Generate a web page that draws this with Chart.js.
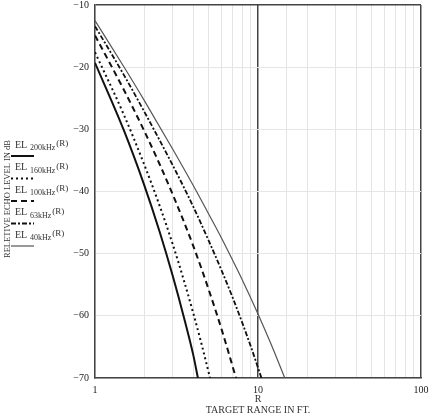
<!DOCTYPE html>
<html lang="en">
  <head>
    <meta charset="UTF-8" />
    <title>Relative echo level vs target range</title>
    <script src="https://cdn.jsdelivr.net/npm/chart.js"></script>
    <style>
      html, body { margin: 0; padding: 0; background: #ffffff; }
      #wrap { position: relative; width: 432px; height: 417px; }
    </style>
  </head>
  <body>
    <div id="wrap"><canvas id="echoChart"></canvas></div>

    <script>
      // data (range in ft, echo level in dB)
      const r200 = [1, 1.5, 2, 2.5, 3, 3.5, 4, 4.28];
      const el200 = [-19.3, -30.1, -38.9, -46.6, -53.6, -60.1, -66.2, -70];
      const r160 = [1, 1.5, 2, 2.5, 3, 3.5, 4, 4.5, 5.08];
      const el160 = [-17.6, -27.6, -35.6, -42.4, -48.5, -54.2, -59.5, -64.5, -70];
      const r100 = [1, 1.5, 2, 2.5, 3, 4, 5, 6, 7.33];
      const el100 = [-14.9, -23.6, -30.2, -35.7, -40.5, -48.7, -55.9, -62.3, -70];
      const r63 = [1, 1.5, 2, 3, 4, 5, 6, 7, 8, 9, 10.5];
      const el63 = [-13.4, -21.2, -27.1, -35.8, -42.4, -48.0, -52.8, -57.1, -61.1, -64.8, -70];
      const r40 = [1, 1.5, 2, 3, 4, 5, 6, 7, 8, 10, 12, 14.6];
      const el40 = [-12.5, -19.9, -25.3, -33.2, -39.0, -43.7, -47.6, -51.1, -54.2, -59.7, -64.5, -70];

      const freqLabels = ["200kHz", "160kHz", "100kHz", "63kHz", "40kHz"];
      const yTicks = [-10, -20, -30, -40, -50, -60, -70];
      const xTickLabels = [1, 10, 100];

      const serif = "'Liberation Serif', 'DejaVu Serif', serif";
      const ink = "#222";

      // line styles, same order as freqLabels
      const styles = [
        { color: "#111", width: 2, dash: [] },
        { color: "#111", width: 2, dash: [2, 3] },
        { color: "#111", width: 2, dash: [6, 4] },
        { color: "#111", width: 1.8, dash: [5, 2, 2, 2] },
        { color: "#555", width: 1.2, dash: [] },
      ];

      function pts(xs, ys) {
        return xs.map((x, i) => ({ x: x, y: ys[i] }));
      }
      const series = [pts(r200, el200), pts(r160, el160), pts(r100, el100), pts(r63, el63), pts(r40, el40)];

      // texts that sit outside the plot: axis titles and the hand-made legend
      const sidePlugin = {
        id: "sideTexts",
        afterDraw(chart) {
          const ctx = chart.ctx;
          const area = chart.chartArea;
          ctx.save();
          ctx.fillStyle = "#333";
          ctx.textAlign = "center";
          ctx.textBaseline = "middle";

          // y title
          ctx.save();
          ctx.translate(8, 199);
          ctx.rotate(-Math.PI / 2);
          ctx.font = "8.5px " + serif;
          ctx.fillText("RELETIVE ECHO LEVEL IN dB", 0, 0);
          ctx.restore();

          // x titles
          const cx = chart.scales.x.getPixelForValue(10);
          ctx.font = "10px " + serif;
          ctx.fillText("R", cx, area.bottom + 21);
          ctx.fillText("TARGET RANGE IN FT.", cx, area.bottom + 32);

          // legend
          ctx.textAlign = "left";
          for (let i = 0; i < freqLabels.length; i++) {
            const ly = 145 + i * 22.5;
            ctx.fillStyle = "#333";
            ctx.font = "10px " + serif;
            ctx.fillText("EL", 15, ly);
            ctx.font = "8px " + serif;
            ctx.fillText(freqLabels[i], 30, ly + 3);
            const w = ctx.measureText(freqLabels[i]).width;
            ctx.font = "9px " + serif;
            ctx.fillText("(R)", 30 + w + 1, ly - 1);

            const s = styles[i];
            ctx.strokeStyle = s.color;
            ctx.lineWidth = s.width;
            ctx.setLineDash(s.dash);
            ctx.beginPath();
            ctx.moveTo(11, ly + 11);
            ctx.lineTo(34, ly + 11);
            ctx.stroke();
            ctx.setLineDash([]);
          }
          ctx.restore();
        },
      };

      const ctx = document.getElementById("echoChart").getContext("2d");
      new Chart(ctx, {
        type: "line",
        data: {
          datasets: series.map((d, i) => ({
            label: "EL " + freqLabels[i] + "(R)",
            data: d,
            borderColor: styles[i].color,
            borderWidth: styles[i].width,
            borderDash: styles[i].dash,
            pointRadius: 0,
            fill: false,
            cubicInterpolationMode: "monotone",
          })),
        },
        options: {
          responsive: true,
          maintainAspectRatio: false,
          animation: false,
          layout: { padding: { top: 5, right: 11, left: 0, bottom: 0 } },
          plugins: {
            legend: { display: false },
            tooltip: { enabled: false },
          },
          scales: {
            x: {
              type: "logarithmic",
              min: 1,
              max: 100,
              afterFit(scale) {
                scale.height = 39;
                scale.paddingLeft = 0;
                scale.paddingRight = 0;
              },
              border: { color: "#444", width: 1.5 },
              grid: {
                drawTicks: false,
                color: (c) => {
                  const v = c.tick && c.tick.value;
                  return v === 10 || v === 100 ? "#444" : "#e4e4e4";
                },
                lineWidth: (c) => {
                  const v = c.tick && c.tick.value;
                  return v === 10 || v === 100 ? 1.5 : 1;
                },
              },
              ticks: {
                color: ink,
                font: { family: serif, size: 10 },
                padding: 6,
                autoSkip: false,
                maxRotation: 0,
                callback: (v) => (xTickLabels.includes(v) ? String(v) : ""),
              },
            },
            y: {
              min: -70,
              max: -10,
              afterFit(scale) {
                scale.width = 95;
                scale.paddingTop = 0;
                scale.paddingBottom = 0;
              },
              afterBuildTicks(scale) {
                scale.ticks = yTicks.map((v) => ({ value: v }));
              },
              border: { color: "#444", width: 1.5 },
              grid: {
                drawTicks: false,
                color: (c) => (c.tick && c.tick.value === -10 ? "#444" : "#e6e6e6"),
                lineWidth: (c) => (c.tick && c.tick.value === -10 ? 1.5 : 1),
              },
              ticks: {
                color: ink,
                font: { family: serif, size: 10 },
                padding: 6,
                callback: (v) => "\u2212" + Math.abs(v),
              },
            },
          },
        },
        plugins: [sidePlugin],
      });
    </script>
  </body>
</html>
